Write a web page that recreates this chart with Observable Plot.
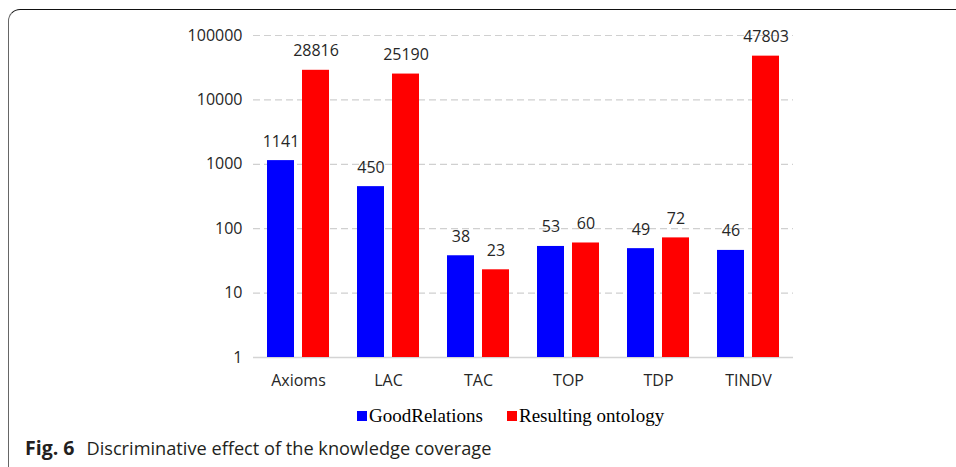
<!DOCTYPE html>
<html>
<head>
<meta charset="utf-8">
<script src="https://cdn.jsdelivr.net/npm/d3@7"></script>
<script src="https://cdn.jsdelivr.net/npm/@observablehq/plot@0.6"></script>
<style>
  html, body { margin: 0; padding: 0; background: #fff; }
  #page { position: relative; width: 956px; height: 467px; overflow: hidden; background: #fff; }
  #frame { position: absolute; left: 8px; top: 9px; width: 1100px; height: 600px;
           border-top: 1.5px solid #111; border-left: 1px solid #666; border-top-left-radius: 12px; }
  #chart { position: absolute; left: 0; top: 0; }
  #legend { position: absolute; left: 357px; top: 404px; font-family: "Liberation Serif", "Times New Roman", serif;
            font-size: 19px; color: #000; display: flex; align-items: center; white-space: nowrap; line-height: 24px; }
  #legend .item { display: flex; align-items: center; margin-right: 24px; }
  #legend .sw { width: 10px; height: 10px; margin-right: 2px; display: inline-block; }
  #caption { position: absolute; left: 25px; top: 436px; font-family: "Open Sans", sans-serif; font-size: 18.2px;
             color: #231f20; white-space: nowrap; line-height: 24px; }
  #caption b { margin-right: 12px; font-size: 19.5px; }
</style>
</head>
<body>
<div id="page">
  <div id="frame"></div>
  <div id="chart"></div>
  <div id="legend"></div>
  <div id="caption"><b>Fig. 6</b>Discriminative effect of the knowledge coverage</div>
</div>
<script>
const categories = ["Axioms", "LAC", "TAC", "TOP", "TDP", "TINDV"];
const goodRelations = [1141, 450, 38, 53, 49, 46];
const resultingOntology = [28816, 25190, 23, 60, 72, 47803];
const seriesNames = ["GoodRelations", "Resulting ontology"];
const seriesColors = ["#0000ff", "#ff0000"];
const yTicks = [1, 10, 100, 1000, 10000, 100000];

const rows = categories.map((c, i) => ({category: c, good: goodRelations[i], resulting: resultingOntology[i]}));

const chart = Plot.plot({
  width: 956,
  height: 400,
  marginLeft: 253,
  marginRight: 163,
  marginTop: 35,
  marginBottom: 43,
  style: {fontFamily: "'Open Sans', sans-serif", fontSize: "16px", color: "#262626", background: "transparent"},
  x: {domain: categories, padding: 0, tickSize: 0, tickPadding: 17, label: null},
  y: {type: "log", domain: [1, 100000], ticks: yTicks, tickFormat: d => String(d), tickSize: 0, tickPadding: 11, label: null},
  marks: [
    Plot.ruleY(yTicks.filter(t => t > 1), {stroke: "#d0d0d0", strokeWidth: 1.2, strokeDasharray: "7,4"}),
    Plot.ruleY([1], {stroke: "#d4d4d4", strokeWidth: 1.5}),
    Plot.barY(rows, {x: "category", y1: 1, y2: "good", fill: seriesColors[0], insetLeft: 14, insetRight: 49}),
    Plot.barY(rows, {x: "category", y1: 1, y2: "resulting", fill: seriesColors[1], insetLeft: 49, insetRight: 14}),
    Plot.text(rows, {x: "category", y: "good", text: d => String(d.good), dx: -17.5, dy: -14, lineAnchor: "bottom", fill: "#262626", fontSize: 16}),
    Plot.text(rows, {x: "category", y: "resulting", text: d => String(d.resulting), dx: 17.5, dy: -14, lineAnchor: "bottom", fill: "#262626", fontSize: 16})
  ]
});
document.getElementById("chart").appendChild(chart);

const legend = document.getElementById("legend");
seriesNames.forEach((name, i) => {
  const item = document.createElement("span");
  item.className = "item";
  const sw = document.createElement("span");
  sw.className = "sw";
  sw.style.background = seriesColors[i];
  item.appendChild(sw);
  item.appendChild(document.createTextNode(name));
  legend.appendChild(item);
});
</script>
</body>
</html>
